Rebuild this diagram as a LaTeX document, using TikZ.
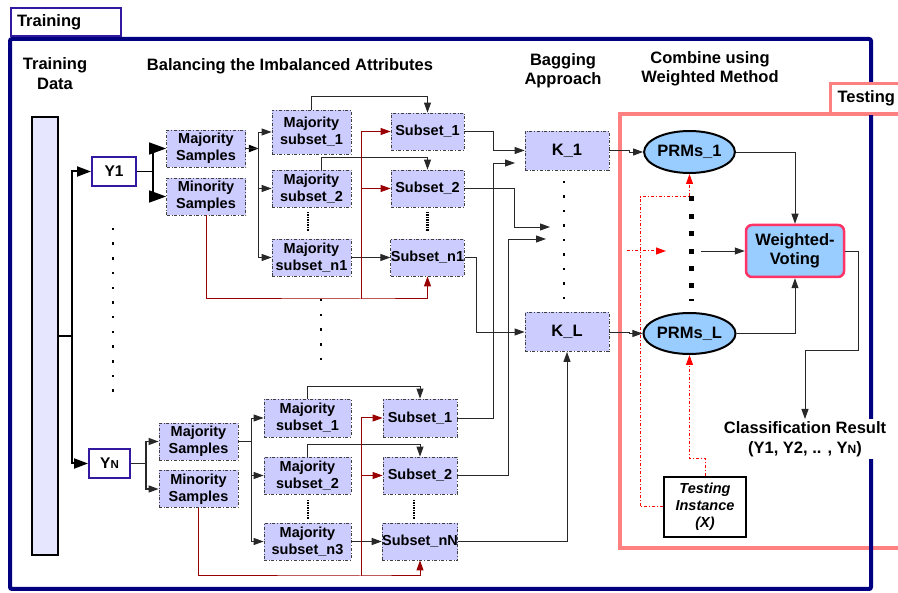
\documentclass[tikz,border=0pt]{standalone}
\usepackage{fontspec}
\setmainfont{Liberation Sans}
\usepackage{tikz}
\usetikzlibrary{arrows.meta,calc,shapes.geometric}
\definecolor{navyline}{RGB}{0,0,128}
\definecolor{ybord}{RGB}{51,25,160}
\definecolor{salmonline}{RGB}{255,128,128}
\definecolor{boxfill}{RGB}{204,204,255}
\definecolor{barfill}{RGB}{230,230,255}
\definecolor{prmfill}{RGB}{153,204,255}
\definecolor{wvbord}{RGB}{255,51,102}
\definecolor{minline}{RGB}{153,0,0}
\definecolor{conline}{RGB}{40,40,40}
\tikzset{
  txt/.style={
    font=\bfseries\fontsize{14.5}{17}\selectfont,
    align=center,
    inner sep=0
  },
  hd/.style={
    txt,
    font=\bfseries\fontsize{16.5}{19}\selectfont
  },
  sbox/.style={
    txt,
    draw=black!75,
    fill=boxfill,
    dash dot,
    line width=0.8,
    minimum width=79,
    minimum height=37
  },
  subbox/.style={
    sbox,
    font=\bfseries\fontsize{14.5}{17}\selectfont
  },
  ybox/.style={
    txt,
    font=\bfseries\fontsize{15.5}{17}\selectfont,
    draw=ybord,
    fill=white,
    line width=2,
    minimum height=29
  },
  prm/.style={
    hd,
    ellipse,
    draw,
    fill=prmfill,
    line width=2,
    minimum width=83,
    minimum height=42
  },
  arr/.style={
    draw=conline,
    line width=0.9,
    -{Triangle[length=10pt,width=7pt]}
  },
  bigarr/.style={
    line width=1.3,
    -{Triangle[length=17pt,width=12pt]}
  },
  busarr/.style={
    line width=2,
    -{Triangle[length=14pt,width=10pt]}
  },
  minarr/.style={
    draw=minline,
    line width=1,
    -{Triangle[length=10pt,width=7pt]}
  },
  tstarr/.style={
    draw=red,
    line width=1,
    dash dot,
    -{Triangle[length=10pt,width=7pt]}
  },
  vdots/.style={
    line width=2.5,
    dash pattern=on 1.5pt off 1pt
  }
}
\begin{document}
\begin{tikzpicture}[x=1pt,y=-1pt]
  \useasboundingbox (0,0) rectangle (898,593);
  % frames
  \draw[salmonline, line width=4] (620,114) rectangle (912,548);
  \draw[navyline, line width=4, rounded corners=2] (10,39) rectangle (871,589);
  \node[hd, draw=ybord, fill=white, line width=2, minimum width=110, minimum height=28,
    text width=98, align=left, anchor=north west] (traintab) at (10,7) {Training};
  \node[hd, draw=salmonline, fill=white, line width=3, minimum width=80, minimum height=30,
    text width=66, align=left, anchor=north west] (testtab) at (829,82) {Testing};

  \node[hd] (hdata) at (55,74) {Training\\[1pt]Data};
  \node[hd] (hbal) at (290,66) {Balancing the Imbalanced Attributes};
  \node[hd] (hbag) at (563,71) {Bagging\\Approach};
  \node[hd] (hcomb) at (710,69) {Combine using\\Weighted Method};

  % training data
  \node[draw, line width=2, fill=barfill, minimum width=26, minimum height=438, inner sep=0] (bar) at (45,336) {};
  \node[ybox, minimum width=44] (y1) at (114,171.5) {Y1};
  \node[ybox, minimum width=41] (yN) at (109.5,463.5) {Y{\fontsize{11.5}{11}\selectfont N}};
  \draw[line width=2] (bar.east) -- ++(13,0) coordinate (bus);
  \draw[busarr] (bus) |- (y1.west);
  \draw[busarr] (bus) |- (yN.west);
  \foreach \i in {0,...,11}
    \fill ({111.75},{227.75+14.7*\i}) rectangle ++(2.5,2.5);
  \foreach \i in {0,...,4}
    \fill ({319.75},{298.75+14.8*\i}) rectangle ++(2.5,2.5);

  % first attribute
  \node[sbox] (maj1) at (206,148.5) {Majority\\Samples};
  \node[sbox] (min1) at (206,196.5) {Minority\\Samples};
  \node[sbox, minimum height=44] (ms11) at (311.5,132) {Majority\\subset\_1};
  \node[sbox] (ms12) at (311.5,188.5) {Majority\\subset\_2};
  \node[sbox] (ms1n) at (311.5,257.5) {Majority\\subset\_n1};
  \node[subbox, minimum width=73] (sub11) at (427.5,131.5) {Subset\_1};
  \node[subbox, minimum width=73] (sub12) at (427.5,188.5) {Subset\_2};
  \node[subbox, minimum width=73] (sub1n) at (427.5,257.5) {Subset\_n1};
  \draw[vdots] (308,212) -- (308,232);
  \draw[vdots] (427.5,212) -- (427.5,232);
  \draw[bigarr] (y1.east) -- ++(16,0) |- (maj1.west);
  \draw[bigarr] (y1.east) -- ++(16,0) |- (min1.west);
  \draw[arr, draw=black, line width=1.8] (maj1.east) -- ++(13,0);
  \draw[arr] (maj1.east) -- ++(13,0) |- (ms11.west);
  \draw[arr] (maj1.east) -- ++(13,0) |- (ms12.west);
  \draw[arr] (maj1.east) -- ++(13,0) |- (ms1n.west);
  \draw[arr] (ms11.north) -- ++(0,-13) -| (sub11.north);
  \draw[arr] ([xshift=10pt]ms12.north) -- ++(0,-12) -| (sub12.north);
  \draw[arr] (ms1n.east) -- (sub1n.west);
  \coordinate (r1) at (361,299);
  \draw[minarr] (min1.south) |- (r1) -| (sub1n.south);
  \draw[minarr] (r1) |- (sub11.west);
  \draw[minarr] (r1) |- (sub12.west);

  % last attribute
  \node[sbox] (majN) at (198.5,441.5) {Majority\\Samples};
  \node[sbox] (minN) at (198.5,489) {Minority\\Samples};
  \node[sbox, minimum width=87, minimum height=38] (msN1) at (307.5,418) {Majority\\subset\_1};
  \node[sbox, minimum width=87] (msN2) at (307.5,475.5) {Majority\\subset\_2};
  \node[sbox, minimum width=87] (msNn) at (307.5,541.5) {Majority\\subset\_n3};
  \node[subbox, minimum width=74, minimum height=38] (subN1) at (420,418) {Subset\_1};
  \node[subbox, minimum width=74] (subN2) at (420,475.5) {Subset\_2};
  \node[subbox, minimum width=74] (subNn) at (420,541.5) {Subset\_nN};
  \draw[vdots] (308,500) -- (308,520);
  \draw[vdots] (414,500) -- (414,520);
  \draw[arr, line width=1.2] (yN.east) -- ++(15,0) |- (majN.west);
  \draw[arr, line width=1.2] (yN.east) -- ++(15,0) |- (minN.west);
  \draw[arr] (majN.east) -- ++(13,0) |- (msN1.west);
  \draw[arr] (majN.east) -- ++(13,0) |- (msN2.west);
  \draw[arr] (majN.east) -- ++(13,0) |- (msNn.west);
  \draw[arr] (msN1.north) -- ++(0,-12) -| (subN1.north);
  \draw[arr] (msN2.north) -- ++(0,-12) -| (subN2.north);
  \draw[arr] (msNn.east) -- (subNn.west);
  \coordinate (r2) at (361,576);
  \draw[minarr] (minN.south) |- (r2) -| (subNn.south);
  \draw[minarr] (r2) |- (subN1.west);
  \draw[minarr] (r2) |- (subN2.west);

  % bagging
  \node[sbox, hd, minimum width=84, minimum height=39] (k1) at (567,150.5) {K\_1};
  \node[sbox, hd, minimum width=84, minimum height=39] (kL) at (567,332) {K\_L};
  \foreach \i in {0,...,8}
    \fill ({562.75},{180.75+14.5*\i}) rectangle ++(2.5,2.5);
  \coordinate (kd0) at (515,163);
  \coordinate (kd1) at (550,227);
  \coordinate (kd2) at (546,239);
  \draw[arr] (sub11.east) -- ++(29,0) |- (k1.west);
  \draw[arr] (sub12.east) -- ++(50,0) |- (kd1);
  \draw[arr] (sub1n.east) -- ++(12,0) |- (kL.west);
  \draw[arr] (subN1.east) -- ++(36,0) |- (kd0);
  \draw[arr] (subN2.east) -- ++(51,0) |- (kd2);
  \draw[arr] (subNn.east) -| (kL.south);

  % weighted combination
  \node[prm] (prm1) at (689.5,152) {PRMs\_1};
  \node[prm, minimum height=41] (prmL) at (689.5,333.5) {PRMs\_L};
  \node[hd, draw=wvbord, fill=prmfill, line width=2.5, rounded corners=6,
    minimum width=98, minimum height=52] (wv) at (795,251) {Weighted-\\Voting};
  \draw[arr] (k1.east) -- ++(20,0) |- (prm1.west);
  \draw[arr] (kL.east) -- ++(20,0) |- (prmL.west);
  \draw[arr] (prm1.east) -| (wv.north);
  \draw[arr] (prmL.east) -| (wv.south);
  \foreach \i in {0,...,5}
    \fill ({688.5},{196.5+17.4*\i}) rectangle ++(5,5);
  \fill (688.5,299) rectangle ++(5,2);
  \coordinate (dmid) at (701,251);
  \draw[arr] (dmid) -- (wv.west);
  \node[hd, fill=white, inner sep=2, anchor=north] (res) at (805,419)
    {Classification Result\\[1pt](Y1, Y2, .. , Y{\fontsize{12}{12}\selectfont N})};
  \draw[arr] (wv.east) -- ++(13,0) -- ++(0,99) -| (res.north);

  % testing
  \node[txt, draw, fill=white, line width=1.5, minimum width=82, minimum height=60,
    font=\bfseries\itshape\fontsize{14.5}{17}\selectfont] (tinst) at (705,507) {Testing\\Instance\\(X)};
  \coordinate (tr1) at (640,197);
  \coordinate (rin) at (627,251);
  \coordinate (rtip) at (666,251);
  \draw[tstarr] (tinst.west) -| (tr1) -| (prm1.south);
  \draw[tstarr] (tinst.north) -- ++(0,-18) -| (prmL.south);
  \draw[tstarr] (rin) -- (rtip);
\end{tikzpicture}
\end{document}
